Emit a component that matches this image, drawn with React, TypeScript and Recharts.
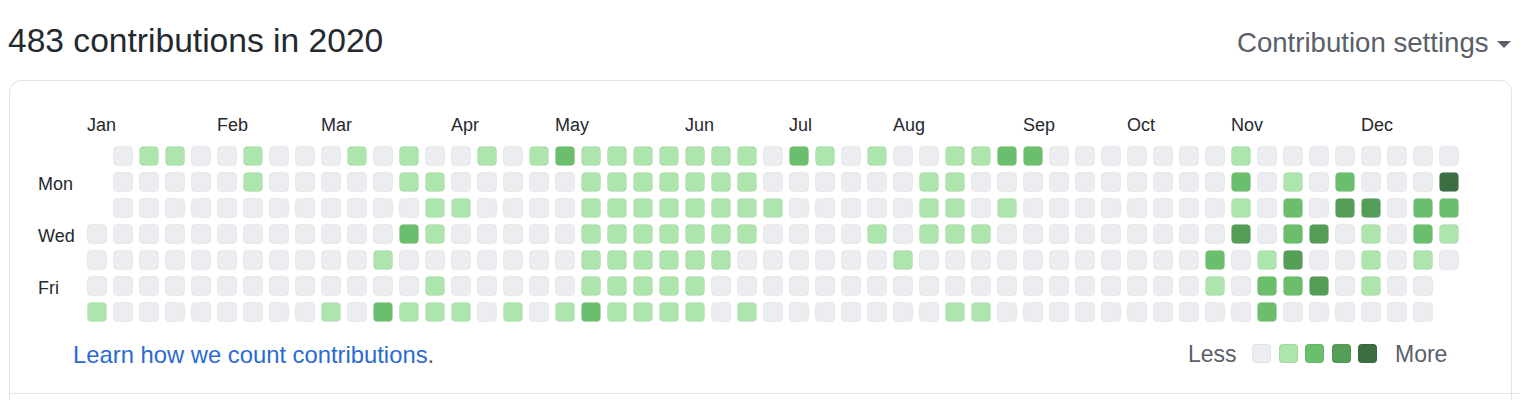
import React from 'react';
import { ScatterChart, Scatter, XAxis, YAxis } from 'recharts';

const FONT = '"Liberation Sans", Arial, sans-serif';
const TEXT_COLOR = '#24292e';
const MUTED_COLOR = '#586069';
const LINK_COLOR = '#2a6ad3';

const MONTHS = ['Jan', 'Feb', 'Mar', 'Apr', 'May', 'Jun', 'Jul', 'Aug', 'Sep', 'Oct', 'Nov', 'Dec'];
const MONTH_START_WEEKS = [0, 5, 9, 14, 18, 23, 27, 31, 36, 40, 44, 49];
const DAY_LABELS = ['Sun', 'Mon', 'Tue', 'Wed', 'Thu', 'Fri', 'Sat'];
const DAY_TICKS = [1, 3, 5];
const LEVEL_COLORS = ['#ebedf0', '#ade5ad', '#6bbf6c', '#549e57', '#3b6e40'];

// contribution level (0-4) for each of the 53 weeks, one list per weekday; null = not in 2020
const SUN = [null, 0, 1, 1, 0, 0, 1, 0, 0, 0, 1, 0, 1, 0, 0, 1, 0, 1, 2, 1, 1, 1, 1, 1, 1, 1, 0, 2, 1, 0, 1, 0, 0, 1, 1, 2, 2, 0, 0, 0, 0, 0, 0, 0, 1, 0, 0, 0, 0, 0, 0, 0, 0];
const MON = [null, 0, 0, 0, 0, 0, 1, 0, 0, 0, 0, 0, 1, 1, 0, 0, 0, 0, 0, 1, 1, 1, 1, 1, 1, 1, 0, 0, 0, 0, 0, 0, 1, 1, 0, 0, 0, 0, 0, 0, 0, 0, 0, 0, 2, 0, 1, 0, 2, 0, 0, 0, 4];
const TUE = [null, 0, 0, 0, 0, 0, 0, 0, 0, 0, 0, 0, 0, 1, 1, 0, 0, 0, 0, 1, 1, 1, 1, 1, 1, 1, 1, 0, 0, 0, 0, 0, 1, 1, 0, 1, 0, 0, 0, 0, 0, 0, 0, 0, 1, 0, 2, 0, 3, 3, 0, 2, 2];
const WED = [0, 0, 0, 0, 0, 0, 0, 0, 0, 0, 0, 0, 2, 1, 0, 0, 0, 0, 0, 1, 1, 1, 1, 1, 1, 1, 0, 0, 0, 0, 1, 0, 1, 1, 1, 0, 0, 0, 0, 0, 0, 0, 0, 0, 3, 0, 2, 3, 0, 1, 0, 2, 1];
const THU = [0, 0, 0, 0, 0, 0, 0, 0, 0, 0, 0, 1, 0, 0, 0, 0, 0, 0, 0, 1, 1, 1, 1, 1, 1, 0, 0, 0, 0, 0, 0, 1, 0, 0, 0, 0, 0, 0, 0, 0, 0, 0, 0, 2, 0, 1, 3, 0, 0, 1, 0, 1, 0];
const FRI = [0, 0, 0, 0, 0, 0, 0, 0, 0, 0, 0, 0, 0, 1, 0, 0, 0, 0, 0, 1, 1, 1, 1, 1, 0, 0, 0, 0, 0, 0, 0, 0, 0, 0, 0, 0, 0, 0, 0, 0, 0, 0, 0, 1, 0, 2, 2, 3, 0, 1, 0, 0, null];
const SAT = [1, 0, 0, 0, 0, 0, 0, 0, 0, 1, 0, 2, 1, 1, 1, 0, 1, 0, 1, 2, 1, 1, 1, 1, 0, 1, 0, 0, 0, 0, 0, 0, 0, 1, 1, 0, 0, 0, 0, 0, 0, 0, 0, 0, 0, 2, 0, 0, 0, 0, 0, 0, null];

const WEEKDAYS = [SUN, MON, TUE, WED, THU, FRI, SAT];

const cells: { week: number; day: number; level: number }[] = [];
WEEKDAYS.forEach((levels, day) => {
  levels.forEach((level, week) => {
    if (level !== null) cells.push({ week, day, level });
  });
});

const CellShape = (props: any) => {
  const { cx, cy, payload } = props;
  return (
    <rect
      x={cx - 9.5}
      y={cy - 9.5}
      width={19}
      height={19}
      rx={4}
      fill={LEVEL_COLORS[payload.level]}
      stroke="rgba(27,31,35,0.06)"
      strokeWidth={1}
    />
  );
};

const MonthTick = (props: any) => {
  const { x, y, payload } = props;
  return (
    <text x={x - 10} y={y - 4} fill={TEXT_COLOR} fontSize={18} fontFamily={FONT}>
      {MONTHS[MONTH_START_WEEKS.indexOf(payload.value)]}
    </text>
  );
};

const DayTick = (props: any) => {
  const { x, y, payload } = props;
  return (
    <text x={x - 38} y={y + 2} dy="0.35em" fill={TEXT_COLOR} fontSize={18} fontFamily={FONT}>
      {DAY_LABELS[payload.value]}
    </text>
  );
};

const abs = (style: React.CSSProperties): React.CSSProperties => ({
  position: 'absolute',
  lineHeight: 1,
  whiteSpace: 'nowrap',
  ...style,
});

export default function App() {
  return (
    <div
      style={{
        position: 'absolute',
        left: 0,
        top: 0,
        width: 1520,
        height: 400,
        overflow: 'hidden',
        background: '#fff',
        fontFamily: FONT,
      }}
    >
      <div
        style={abs({
          left: 9,
          top: 80,
          width: 1503,
          height: 360,
          border: '1px solid #e1e4e8',
          borderRadius: 12,
          boxSizing: 'border-box',
        })}
      />
      <div style={abs({ left: 9, right: 0, top: 393, height: 1, background: '#e1e4e8' })} />

      <div style={abs({ left: 8, top: 23.5, fontSize: 33.6, color: TEXT_COLOR })}>483 contributions in 2020</div>
      <div style={abs({ left: 1237, top: 28.5, fontSize: 27.6, color: MUTED_COLOR })}>Contribution settings</div>
      <div
        style={abs({
          left: 1497,
          top: 41,
          width: 0,
          height: 0,
          borderLeft: '7px solid transparent',
          borderRight: '7px solid transparent',
          borderTop: '7px solid ' + MUTED_COLOR,
        })}
      />

      <div style={{ position: 'absolute', left: 0, top: 0 }}>
        <ScatterChart width={1520} height={400} margin={{ top: 113, right: 58, bottom: 75, left: 34 }}>
          <XAxis
            type="number"
            dataKey="week"
            orientation="top"
            domain={[-0.5, 52.5]}
            ticks={MONTH_START_WEEKS}
            height={30}
            axisLine={false}
            tickLine={false}
            tick={<MonthTick />}
            interval={0}
          />
          <YAxis
            type="number"
            dataKey="day"
            domain={[-0.5, 6.5]}
            reversed
            ticks={DAY_TICKS}
            width={50}
            axisLine={false}
            tickLine={false}
            tick={<DayTick />}
            interval={0}
          />
          <Scatter data={cells} shape={<CellShape />} isAnimationActive={false} />
        </ScatterChart>
      </div>

      <div style={abs({ left: 73, top: 342.5, fontSize: 23.8, color: LINK_COLOR })}>
        Learn how we count contributions<span style={{ color: MUTED_COLOR }}>.</span>
      </div>
      <div style={abs({ left: 1188, top: 343, fontSize: 23, color: MUTED_COLOR })}>Less</div>
      {LEVEL_COLORS.map((c, i) => (
        <div
          key={c}
          style={abs({
            left: 1252 + i * 26.5,
            top: 344,
            width: 19,
            height: 19,
            borderRadius: 4,
            background: c,
            boxShadow: 'inset 0 0 0 1px rgba(27,31,35,0.06)',
          })}
        />
      ))}
      <div style={abs({ left: 1395, top: 343, fontSize: 23, color: MUTED_COLOR })}>More</div>
    </div>
  );
}
